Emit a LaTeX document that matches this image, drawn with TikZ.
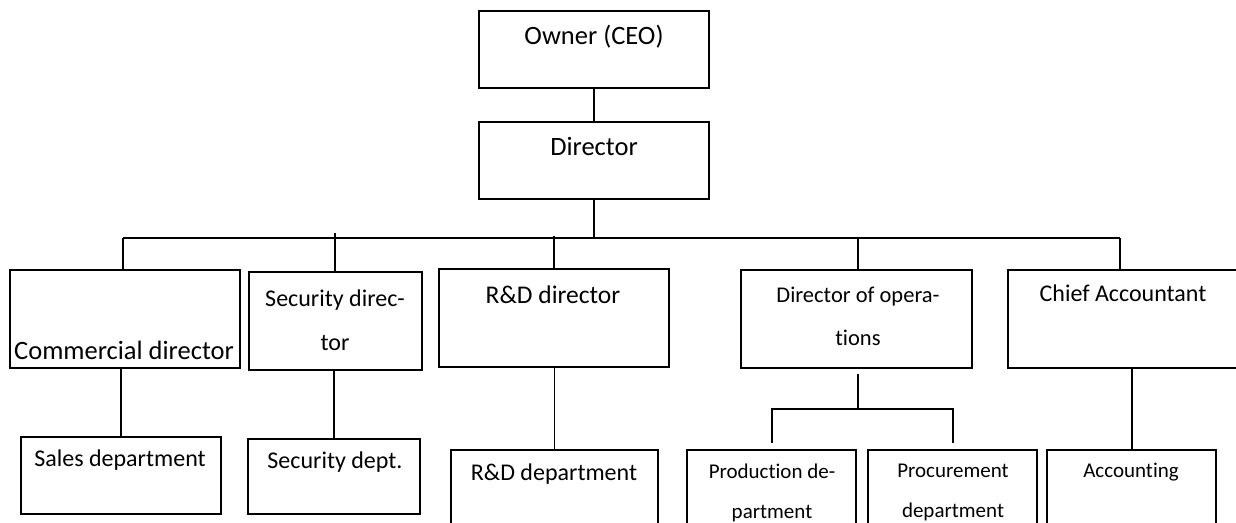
\documentclass[tikz,border=0pt]{standalone}
\usepackage{fontspec}
\setmainfont[Ligatures=NoCommon]{Carlito}
\tikzset{
  box/.style={draw,line width=2pt,rectangle,inner sep=0pt},
  thin/.style={line width=1.2pt},
  thick/.style={line width=2pt},
  txt/.style={align=center,inner sep=0pt,font=\fontsize{24}{44}\selectfont},
  bigtxt/.style={txt,font=\fontsize{26.5}{44}\selectfont},
  smalltxt/.style={align=center,inner sep=0pt,font=\fontsize{21}{40}\selectfont}
}
\begin{document}
\begin{tikzpicture}[x=1pt,y=-1pt]
\clip (0,0) rectangle (1236,522);
\useasboundingbox (0,0) rectangle (1236,522);
% top
\node[box,minimum width=230pt,minimum height=77pt] (own) at (594,49.5) {};
\node[box,minimum width=230pt,minimum height=77pt] (dir) at (594,160.5) {};
\node[bigtxt] (ownT) at (594,37) {Owner (CEO)};
\node[bigtxt] (dirT) at (594,146) {Director};
\draw[thin] (own.south) -- (dir.north);
% bus
\coordinate (busL) at (123,238);
\coordinate (busR) at (1120,238);
\coordinate (secT) at (335,233);
\coordinate (rddT) at (554,236);
\coordinate (opsT) at (858,238);
\draw[thick] (busL) -- (busR);
\draw[thick] (dir.south) -- (dir.south |- busL);
% directors
\node[box,minimum width=230pt,minimum height=98pt] (com) at (125,319) {};
\node[box,minimum width=173pt,minimum height=98pt] (sec) at (335.5,321) {};
\node[box,minimum width=230pt,minimum height=98pt] (rdd) at (554,318) {};
\node[box,minimum width=231pt,minimum height=98pt] (ops) at (856.5,319) {};
\node[box,minimum width=237pt,minimum height=98pt] (chf) at (1126.5,319) {};
\node[bigtxt] (comT) at (124,350) {Commercial director};
\node[txt] (secT1) at (335,320) {Security direc-\\tor};
\node[txt,font=\fontsize{25.5}{44}\selectfont] (rddT1) at (553,295) {R\&D director};
\node[txt,font=\fontsize{22.5}{43}\selectfont] (opsT1) at (858,316.5) {Director of opera-\\tions};
\node[txt] (chfT) at (1123,293) {Chief Accountant};
\draw[thick] (busL) -- (busL |- com.north);
\draw[thin] (secT) -- (secT |- sec.north);
\draw[thick] (rddT) -- (rddT |- rdd.north);
\draw[thick] (opsT) -- (opsT |- ops.north);
\draw[thick] (busR) -- (busR |- chf.north);
% departments
\node[box,minimum width=200pt,minimum height=77pt] (sal) at (121,475.5) {};
\node[box,minimum width=172pt,minimum height=75pt] (scd) at (334,476.5) {};
\node[box,minimum width=207pt,minimum height=90pt] (rnd) at (554.5,495) {};
\node[box,minimum width=169pt,minimum height=90pt] (prd) at (771.5,495) {};
\node[box,minimum width=169pt,minimum height=90pt] (prc) at (952.5,495) {};
\node[box,minimum width=169pt,minimum height=90pt] (acc) at (1131.5,495) {};
\node[txt] (salT) at (120,460) {Sales department};
\node[txt] (scdT) at (335,462) {Security dept.};
\node[txt] (rndT) at (554,474) {R\&D department};
\node[smalltxt] (prdT) at (772,492.5) {Production de-\\partment};
\node[smalltxt] (prcT) at (953,492) {Procurement\\department};
\node[smalltxt] (accT) at (1131,472) {Accounting};
\draw[thin] (sal.north) -- (sal.north |- com.south);
\draw[thin] (scd.north) -- (scd.north |- sec.south);
\draw[thin] (rnd.north) -- (rnd.north |- rdd.south);
\coordinate (fork) at (858,409);
\draw[thick] ([yshift=-5pt]ops.south -| fork) -- (fork);
\draw[thick] ([yshift=6pt]prd.north) |- (fork) -| ([yshift=6pt]prc.north);
\draw[thick] (acc.north) -- (acc.north |- chf.south);
\end{tikzpicture}
\end{document}
